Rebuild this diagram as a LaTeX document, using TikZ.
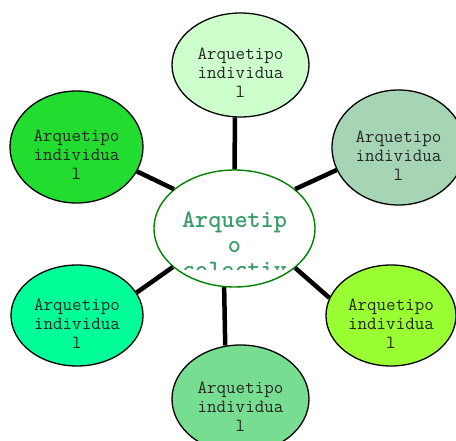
\documentclass[tikz,border=0pt]{standalone}
\usepackage{fontspec}
\usepackage{tikz}
\usetikzlibrary{shapes.geometric}

\definecolor{vertpale}{HTML}{CCFFCC}
\definecolor{vertvif}{HTML}{22DD30}
\definecolor{vertgris}{HTML}{A6D5B6}
\definecolor{vertmenthe}{HTML}{00FF99}
\definecolor{vertlime}{HTML}{99FF33}
\definecolor{vertmoyen}{HTML}{77DD91}
\definecolor{vertbord}{HTML}{008000}
\definecolor{verttexte}{HTML}{3A9D6B}

\tikzset{
    individuel/.style={ellipse, draw=black, line width=1.3pt, inner sep=0pt,
        label={[font=\ttfamily\fontsize{18.5}{19}\selectfont, text=black!85,
                align=center, yshift=-8pt]center:Arquetipo\\individua\\l}},
    lien/.style={line width=4.5pt, black}
}

\begin{document}
\begin{tikzpicture}[x=1pt,y=-1pt]
            \useasboundingbox (0,0) rectangle (456,441);

            % archetype collectif au milieu
            \node[ellipse, draw=vertbord, line width=1.4pt, fill=white, inner sep=0pt,
                  minimum width=161pt, minimum height=117pt,
                  path picture={
                      \clip (path picture bounding box.north west)
                          rectangle ([yshift=17pt]path picture bounding box.south east);
                      \node[font=\ttfamily\bfseries\fontsize{25}{25}\selectfont,
                            text=verttexte, align=center]
                          at ([yshift=-28.5pt]path picture bounding box.center)
                          {Arquetip\\o\\colectiv\\o};
                  }] (C) at (234.5,228.5) {};

            % archetypes individuels
            \node[individuel, fill=vertpale, minimum width=137pt, minimum height=104pt] (H) at (240.5,65) {};
            \node[individuel, fill=vertvif, minimum width=133pt, minimum height=112pt] (HG) at (76.5,147) {};
            \node[individuel, fill=vertgris, minimum width=133pt, minimum height=115pt] (HD) at (398.5,147.5) {};
            \node[individuel, fill=vertmenthe, minimum width=132pt, minimum height=101pt] (BG) at (77,315.5) {};
            \node[individuel, fill=vertlime, minimum width=130pt, minimum height=101pt] (BD) at (391,315.5) {};
            \node[individuel, fill=vertmoyen, minimum width=137pt, minimum height=108pt] (B) at (240.5,399) {};

            \foreach \n/\a/\b in {H/90/264, HG/147/-22.5, HD/33/200.5,
                                  BG/212.3/21.4, BD/327.7/164.5, B/260.8/106.6} {
                \draw[lien] (C.\a) -- (\n.\b);
            }
        \end{tikzpicture}
\end{document}
